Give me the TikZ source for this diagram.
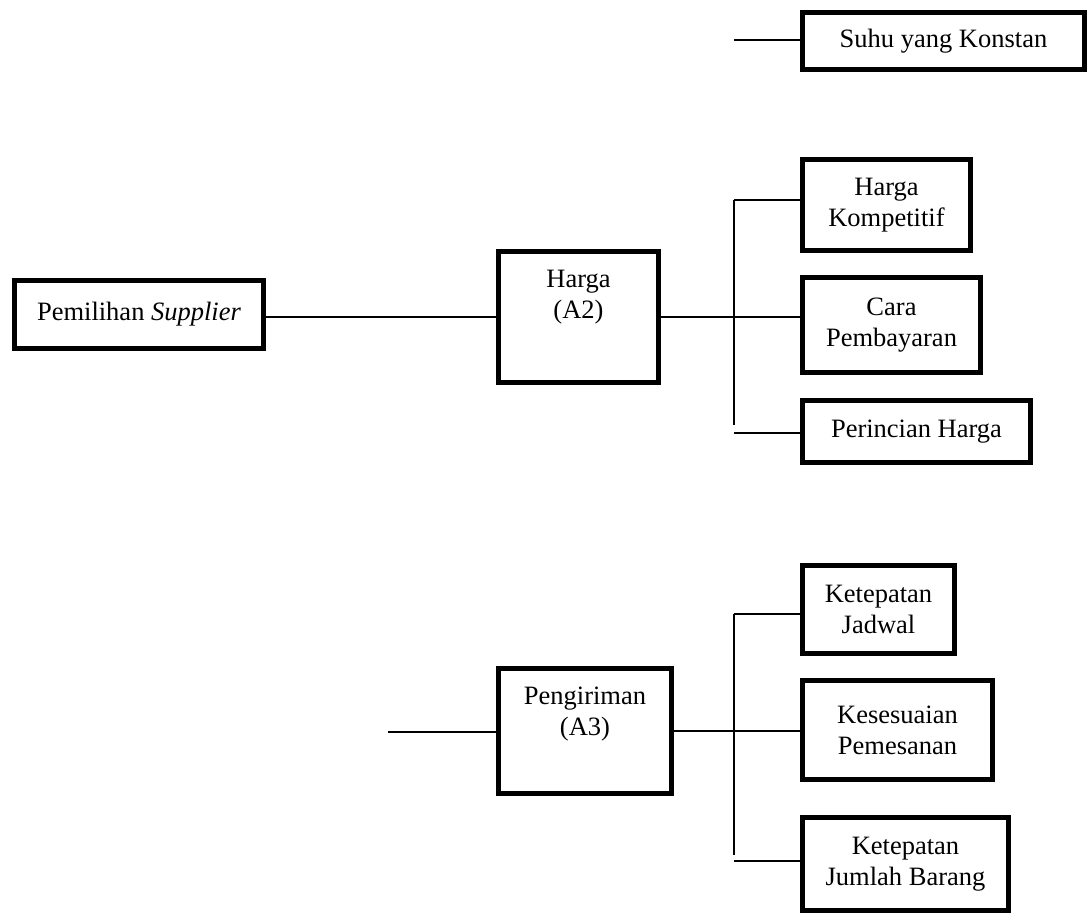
\documentclass[tikz,border=0pt]{standalone}
\usepackage{fontspec}
\setmainfont{Liberation Serif}
\begin{document}
\begin{tikzpicture}[x=1pt,y=-1pt,
  box/.style={draw=black, line width=5pt, fill=white, inner sep=0pt,
    align=center, font=\fontsize{26.5}{31}\selectfont},
  txt/.style={inner sep=0pt, align=center, font=\fontsize{26.5}{31}\selectfont},
  link/.style={draw=black, line width=1.6pt}]
\useasboundingbox (0,0) rectangle (1090,916);

% root and top criterion
\node[box, minimum width=249pt, minimum height=68pt] (pemilihan) at (139,314.5) {Pemilihan \textit{Supplier}};
\node[box, minimum width=282pt, minimum height=57pt] (suhu) at (943.5,41) {Suhu yang Konstan};

% price criterion and its sub-criteria
\node[box, minimum width=160pt, minimum height=131pt] (harga) at (578.5,317) {};
\node[txt] at ([yshift=19.5pt]harga.center) {Harga\\(A2)};
\node[box, minimum width=168pt, minimum height=91pt] (kompetitif) at (886.5,205) {Harga\\Kompetitif};
\node[box, minimum width=178pt, minimum height=95pt] (cara) at (891.5,325) {Cara\\Pembayaran};
\node[box, minimum width=228pt, minimum height=62pt] (perincian) at (916.5,431.5) {Perincian Harga};

% delivery criterion and its sub-criteria
\node[box, minimum width=173pt, minimum height=125pt] (pengiriman) at (585,731) {};
\node[txt] at ([yshift=17pt]pengiriman.center) {Pengiriman\\(A3)};
\node[box, minimum width=152pt, minimum height=88pt] (jadwal) at (878.5,609.5) {Ketepatan\\Jadwal};
\node[box, minimum width=190pt, minimum height=99pt] (kesesuaian) at (897.5,730) {Kesesuaian\\Pemesanan};
\node[box, minimum width=206pt, minimum height=93pt] (jumlah) at (905.5,864) {Ketepatan\\Jumlah Barang};

% loose ends and trunk points
\coordinate (suhuIn) at (734,40);
\coordinate (a3In) at (388,732);
\coordinate (t1a) at (734,200);
\coordinate (t1b) at (734,425);
\coordinate (t1c) at (734,433);
\coordinate (t2a) at (734,614);
\coordinate (t2b) at (734,855);
\coordinate (t2c) at (734,861);

% connectors
\draw[link] (suhuIn) -- (suhuIn -| suhu.west);
\draw[link] (pemilihan.east |- harga.center) -- (harga.west);
\draw[link] (harga.east) -- (harga.east -| cara.west);
\draw[link] (t1a) -- (t1b);
\draw[link] (t1a) -- (t1a -| kompetitif.west);
\draw[link] (t1c) -- (t1c -| perincian.west);

\draw[link] (a3In) -- (a3In -| pengiriman.west);
\draw[link] (pengiriman.east) -- (pengiriman.east -| kesesuaian.west);
\draw[link] (t2a) -- (t2b);
\draw[link] (t2a) -- (t2a -| jadwal.west);
\draw[link] (t2c) -- (t2c -| jumlah.west);
\end{tikzpicture}
\end{document}
